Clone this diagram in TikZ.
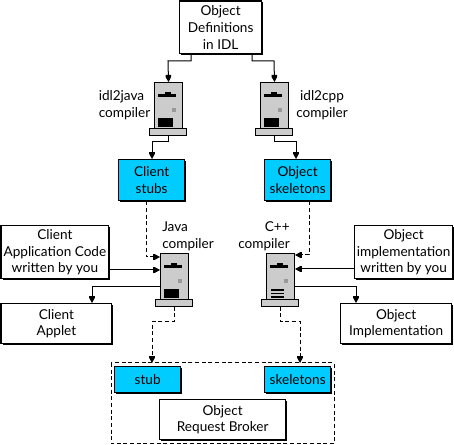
\documentclass[tikz,border=0pt]{standalone}
\usepackage{fontspec}
\setmainfont{Lato}
\usetikzlibrary{arrows.meta,calc}
\definecolor{cyanfill}{RGB}{0,204,255}
\definecolor{towergray}{RGB}{204,204,204}
\definecolor{lightmark}{RGB}{153,153,153}
\tikzset{
  x=0.75pt,y=-0.75pt,
  box/.style={draw=black,fill=white,line width=1pt,inner sep=0pt,align=center,font=\fontsize{10.2pt}{12.7pt}\selectfont,anchor=north west},
  cyanbox/.style={box,fill=cyanfill},
  lbl/.style={inner sep=0pt,font=\fontsize{10.2pt}{12.7pt}\selectfont},
  conn/.style={line width=0.75pt,-{Square[length=1.5pt,width=4pt]Triangle[length=3.8pt,width=4pt]}},
  dconn/.style={conn,dash pattern=on 3pt off 2pt},
  tower/.style={draw=black,fill=towergray,line width=0.75pt,inner sep=0pt,anchor=north west,minimum width=21pt,minimum height=34.5pt},
  towerbase/.style={draw=black,fill=towergray,line width=0.75pt,inner sep=0pt,anchor=north,minimum width=28pt,minimum height=5pt},
}
\newcommand{\putbox}[7]{% style,name,x0,y0,x1,y1,text
  \fill[black] (#3+2,#4+2) rectangle (#5+2,#6+2);
  \node[#1,minimum width={(#5-#3)*0.75pt},minimum height={(#6-#4)*0.75pt}] (#2) at (#3,#4) {#7};
}
\newcommand{\puttower}[4]{% name, x, y, variant
  \node[towerbase] (#1b) at (#2+14,#3+46) {};
  \node[tower] (#1) at (#2,#3) {};
  \fill[black] (#2+4,#3+12) rectangle (#2+22,#3+15);
  \fill[black] (#2+11,#3+10) rectangle (#2+17,#3+12);
  \fill[lightmark] (#2+18,#3+26) rectangle (#2+22,#3+30);
  \ifnum#4=0
    \fill[black] (#2+4,#3+36) rectangle (#2+19,#3+45);
  \else
    \fill[black] (#2+5,#3+36.5) rectangle (#2+18,#3+38);
    \fill[black] (#2+5,#3+40) rectangle (#2+18,#3+41.5);
    \fill[black] (#2+5,#3+43.5) rectangle (#2+18,#3+45);
  \fi
}
\begin{document}
\begin{tikzpicture}
\useasboundingbox (0,0) rectangle (454,445);
\fill[white] (0,0) rectangle (454,445);
\draw[line width=0.75pt,dash pattern=on 3pt off 2pt] (111,363) rectangle (334,444);

\putbox{box}{idl}{179}{0.5}{261}{53}{Object\\Definitions\\in IDL}
\putbox{cyanbox}{cstubs}{118}{159}{184}{200}{Client\\stubs}
\putbox{cyanbox}{oskel}{264}{159}{330}{200}{Object\\skeletons}
\putbox{box}{capp}{0.5}{225}{108}{278}{Client\\Application Code\\written by you}
\putbox{box}{oimpw}{354}{225}{452}{278}{Object\\implementation\\written by you}
\putbox{box}{capplet}{0.5}{303}{111}{343}{Client\\Applet}
\putbox{box}{oimpl}{340}{303}{451}{343}{Object\\Implementation}
\putbox{cyanbox}{stub}{114}{366}{180}{392}{stub}
\putbox{cyanbox}{skel}{264}{366}{330}{392}{skeletons}
\putbox{box}{orb}{159}{399}{285}{439}{Object\\Request Broker}

\puttower{tj}{154}{82}{0}
\puttower{tc}{260}{82}{0}
\puttower{tjava}{160}{253}{0}
\puttower{tcpp}{266}{253}{1}

\node[lbl,align=left] (l1) at (124.5,105) {idl2java\\compiler};
\node[lbl,align=center] (l2) at (322,105) {idl2cpp\\compiler};
\node[lbl,align=left] (l3) at (188,236) {Java\\compiler};
\node[lbl,align=right] (l4) at (264,236) {C++\\compiler};

\draw[conn] (idl.south -| 191,0) |- (168,61) -- (tj.north);
\draw[conn] (idl.south -| 252,0) |- (274,61) -- (tc.north);
\draw[conn] (tjb.south) |- (152,142) -- (cstubs.north -| 152,0);
\draw[conn] (tcb.south) |- (296,142) -- (oskel.north -| 296,0);
\draw[dconn] (cstubs.south -| 146,0) |- (tjava.north west |- 0,257);
\draw[dconn] (oskel.south -| 309,0) |- (tcpp.north east |- 0,255);
\draw[conn] (capp.east |- 0,270) -- (tjava.west |- 0,270);
\draw[conn] (oimpw.west |- 0,269) -- (tcpp.east |- 0,269);
\draw[conn] (tjava.west |- 0,287) -| (capplet.north -| 92,0);
\draw[conn] (tcpp.east |- 0,287) -| (oimpl.north -| 356,0);
\draw[dconn] (tjavab.south) |- (152,321.5) -- (152,363);
\draw[dconn] (tcppb.south) |- (300,321.5) -- (300,363);
\end{tikzpicture}
\end{document}
